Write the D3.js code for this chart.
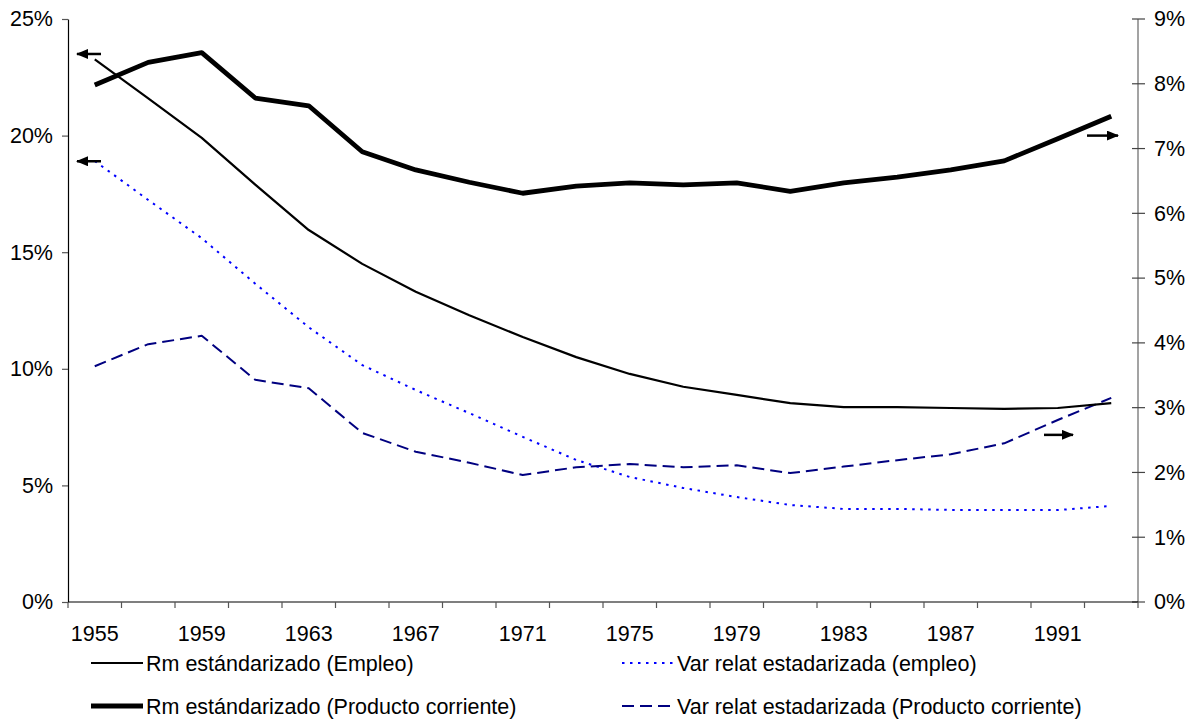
<!DOCTYPE html>
<html>
<head>
<meta charset="utf-8">
<script src="https://cdn.jsdelivr.net/npm/d3@7/dist/d3.min.js"></script>
<style>
  body { margin: 0; background: #fff; }
  svg text { font-family: "Liberation Sans", Arial, sans-serif; font-size: 21.5px; fill: #000; }
</style>
</head>
<body>
<svg id="chart"></svg>
<script>
// Years (categories)
const years = [1955, 1957, 1959, 1961, 1963, 1965, 1967, 1969, 1971, 1973,
               1975, 1977, 1979, 1981, 1983, 1985, 1987, 1989, 1991, 1993];

// Left axis series (%)
const rmEmpleo = [23.27, 21.6, 19.9, 17.9, 15.95, 14.5, 13.3, 12.3, 11.36, 10.5,
                  9.78, 9.23, 8.88, 8.53, 8.36, 8.36, 8.32, 8.28, 8.32, 8.53];
const varEmpleo = [18.91, 17.24, 15.6, 13.65, 11.78, 10.16, 9.09, 8.1, 7.08, 6.09,
                   5.36, 4.89, 4.5, 4.16, 3.99, 3.99, 3.95, 3.95, 3.94, 4.12];

// Right axis series (%)
const rmProducto = [7.98, 8.33, 8.48, 7.78, 7.66, 6.95, 6.67, 6.48, 6.31, 6.42,
                    6.47, 6.44, 6.47, 6.34, 6.47, 6.56, 6.67, 6.81, 7.15, 7.50];
const varProducto = [3.64, 3.98, 4.11, 3.43, 3.30, 2.61, 2.32, 2.15, 1.96, 2.08,
                     2.13, 2.08, 2.11, 1.99, 2.09, 2.19, 2.28, 2.45, 2.81, 3.15];

// Tick values
const leftTicks = [0, 5, 10, 15, 20, 25];
const rightTicks = [0, 1, 2, 3, 4, 5, 6, 7, 8, 9];
const xLabels = [1955, 1959, 1963, 1967, 1971, 1975, 1979, 1983, 1987, 1991];

const legendNames = [
  'Rm estándarizado (Empleo)',
  'Var relat estadarizada (empleo)',
  'Rm estándarizado (Producto corriente)',
  'Var relat estadarizada (Producto corriente)'
];

const config = {
  width: 1192,
  height: 719,
  margin: { top: 19, right: 54, bottom: 117, left: 68 }
};

const svg = d3.select('#chart')
  .attr('width', config.width)
  .attr('height', config.height);

const x0 = config.margin.left;
const x1 = config.width - config.margin.right;
const y0 = config.height - config.margin.bottom;
const y1 = config.margin.top;

const x = d3.scaleBand().domain(years).range([x0, x1]).paddingInner(0).paddingOuter(0);
const cx = d => x(d) + x.bandwidth() / 2;
const yL = d3.scaleLinear().domain([0, 25]).range([y0, y1]);
const yR = d3.scaleLinear().domain([0, 9]).range([y0, y1]);

// Left axis
const leftAxis = d3.axisLeft(yL).tickValues(leftTicks).tickSize(6).tickSizeOuter(0)
  .tickFormat(d => d + '%').tickPadding(9);
const gL = svg.append('g').attr('transform', `translate(${x0},0)`).call(leftAxis)
  .attr('font-size', null).attr('font-family', null);
gL.select('.domain').attr('stroke', '#000').attr('stroke-width', 1.2);
gL.selectAll('.tick line').attr('stroke', '#555').attr('stroke-width', 1.2);
gL.selectAll('text').attr('fill', '#000');

// Right axis (cross ticks)
const gR = svg.append('g').attr('transform', `translate(${x1},0)`);
gR.append('line').attr('y1', y0).attr('y2', y1).attr('stroke', '#666').attr('stroke-width', 1.2);
gR.selectAll('.rtick').data(rightTicks).join('line')
  .attr('x1', -6).attr('x2', 7)
  .attr('y1', d => yR(d)).attr('y2', d => yR(d))
  .attr('stroke', '#444').attr('stroke-width', 1.2);
gR.selectAll('.rlabel').data(rightTicks).join('text')
  .attr('x', 16).attr('y', d => yR(d)).attr('dy', '0.34em')
  .text(d => d + '%');

// Bottom axis: ticks at category boundaries, labels every other category
const gB = svg.append('g');
gB.append('line').attr('x1', x0).attr('x2', x1).attr('y1', y0).attr('y2', y0)
  .attr('stroke', '#000').attr('stroke-width', 1.2);
const boundaries = years.map(d => x(d)).concat([x1]);
gB.selectAll('.btick').data(boundaries).join('line')
  .attr('x1', d => d).attr('x2', d => d)
  .attr('y1', y0).attr('y2', y0 + 6)
  .attr('stroke', '#555').attr('stroke-width', 1.2);
gB.selectAll('.blabel').data(xLabels).join('text')
  .attr('x', d => cx(d)).attr('y', y0 + 39)
  .attr('text-anchor', 'middle')
  .text(d => d);

// Line generators
const lineL = d3.line().x((d, i) => cx(years[i])).y(d => yL(d));
const lineR = d3.line().x((d, i) => cx(years[i])).y(d => yR(d));

const series = [
  { data: varEmpleo, gen: lineL, color: '#0000ff', width: 2, dash: '2.5,5.5' },
  { data: varProducto, gen: lineR, color: '#000080', width: 2, dash: '12,6' },
  { data: rmEmpleo, gen: lineL, color: '#000', width: 2.2, dash: null },
  { data: rmProducto, gen: lineR, color: '#000', width: 4.8, dash: null }
];

svg.selectAll('.series').data(series).join('path')
  .attr('class', 'series')
  .attr('d', d => d.gen(d.data))
  .attr('fill', 'none')
  .attr('stroke', d => d.color)
  .attr('stroke-width', d => d.width)
  .attr('stroke-dasharray', d => d.dash)
  .attr('stroke-linejoin', 'round');

// Arrow annotations showing which axis each series uses
svg.append('defs').append('marker')
  .attr('id', 'arrow-head')
  .attr('markerUnits', 'userSpaceOnUse')
  .attr('viewBox', '0 0 12 10')
  .attr('refX', 11).attr('refY', 5)
  .attr('markerWidth', 12).attr('markerHeight', 10)
  .attr('orient', 'auto')
  .append('path')
  .attr('d', 'M0,0 L12,5 L0,10 Z')
  .attr('fill', '#000');

const arrows = [
  { xa: 101, xb: 77, y: yL(23.5) },
  { xa: 101, xb: 77, y: yL(18.9) },
  { xa: 1087, xb: 1118, y: yR(7.2) },
  { xa: 1044, xb: 1073, y: yR(2.58) }
];
svg.selectAll('.arrow').data(arrows).join('line')
  .attr('class', 'arrow')
  .attr('x1', d => d.xa).attr('x2', d => d.xb)
  .attr('y1', d => d.y).attr('y2', d => d.y)
  .attr('stroke', '#000').attr('stroke-width', 2.5)
  .attr('marker-end', 'url(#arrow-head)');

// Legend
const legendItems = [
  { name: legendNames[0], s: series[2], lx: 91, ly: 663 },
  { name: legendNames[1], s: series[0], lx: 622, ly: 663 },
  { name: legendNames[2], s: series[3], lx: 91, ly: 706 },
  { name: legendNames[3], s: series[1], lx: 622, ly: 706 }
];
const lg = svg.selectAll('.legend').data(legendItems).join('g').attr('class', 'legend');
lg.append('line')
  .attr('x1', d => d.lx).attr('x2', d => d.lx + 52)
  .attr('y1', d => d.ly).attr('y2', d => d.ly)
  .attr('stroke', d => d.s.color)
  .attr('stroke-width', d => d.s.width)
  .attr('stroke-dasharray', d => d.s.dash);
lg.append('text')
  .attr('x', d => d.lx + 55).attr('y', d => d.ly).attr('dy', '0.36em')
  .text(d => d.name);
</script>
</body>
</html>
